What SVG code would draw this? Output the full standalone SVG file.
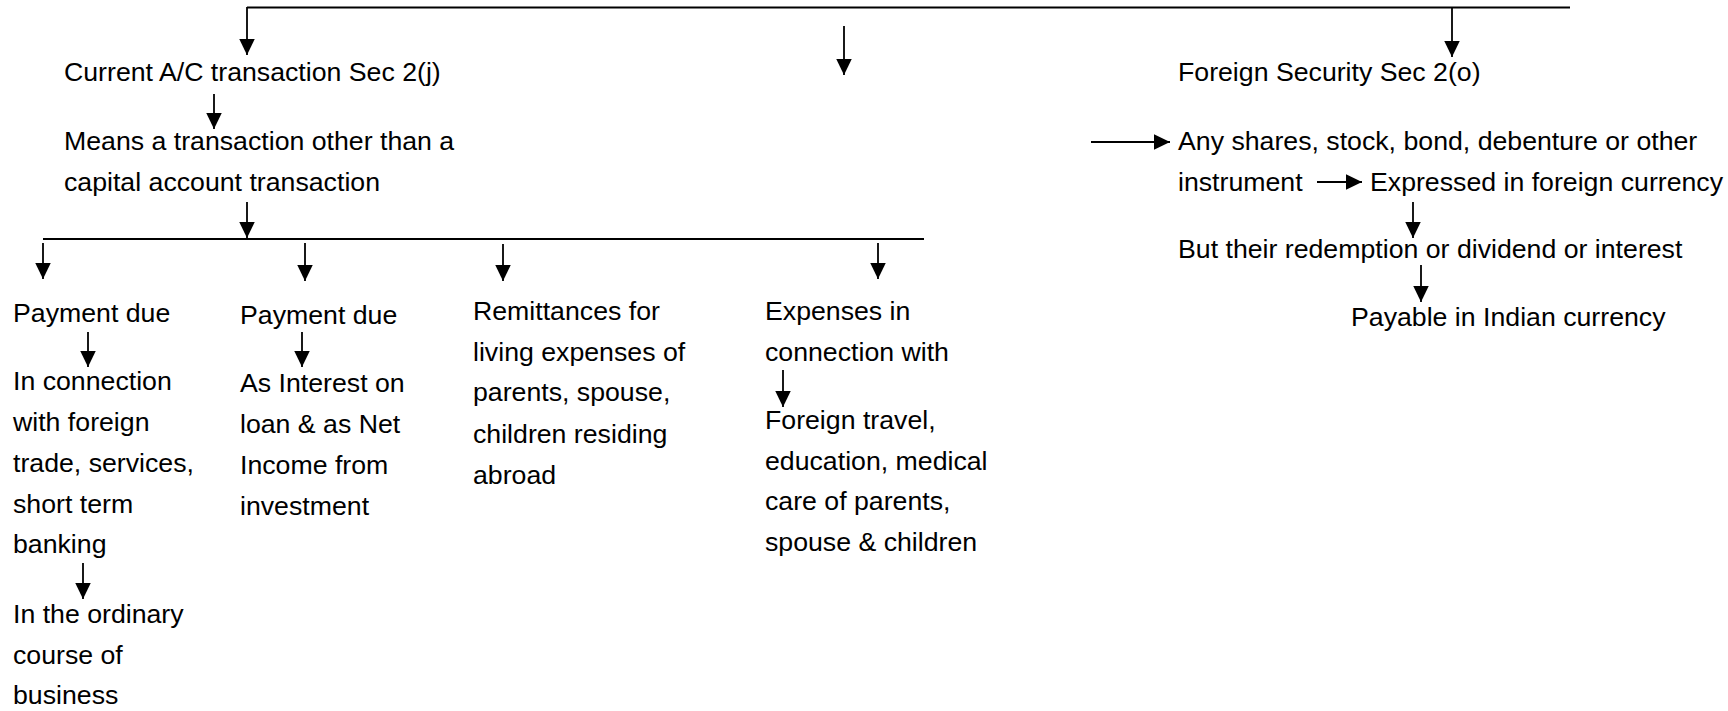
<svg xmlns="http://www.w3.org/2000/svg" width="1728" height="711" viewBox="0 0 1728 711">
<style>
text{font-family:"Liberation Sans",Arial,sans-serif;font-size:26.7px;fill:#000}
.ln{stroke:#000;stroke-width:2;fill:none}
.ar{stroke:#000;stroke-width:1.8;fill:none;marker-end:url(#ah)}
</style>
<defs>
<marker id="ah" markerUnits="userSpaceOnUse" markerWidth="17" markerHeight="17" viewBox="0 0 16 16" refX="15.5" refY="7.5" orient="auto">
<path d="M0,0 L15.5,7.5 L0,15 Z" fill="#000"/>
</marker>
</defs>
<rect width="1728" height="711" fill="#fff"/>
<g id="connectors">
<line class="ln" x1="247" y1="7.5" x2="1570" y2="7.5"/>
<line class="ln" x1="43" y1="239" x2="924" y2="239"/>
<line class="ar" x1="247" y1="7" x2="247" y2="55"/>
<line class="ar" x1="844" y1="26" x2="844" y2="75"/>
<line class="ar" x1="1452" y1="7" x2="1452" y2="57"/>
<line class="ar" x1="214" y1="94" x2="214" y2="129"/>
<line class="ar" x1="247" y1="202" x2="247" y2="238"/>
<line class="ar" x1="43" y1="243" x2="43" y2="279"/>
<line class="ar" x1="305" y1="243" x2="305" y2="281"/>
<line class="ar" x1="503" y1="244" x2="503" y2="281"/>
<line class="ar" x1="878" y1="243" x2="878" y2="279"/>
<line class="ar" x1="88" y1="332" x2="88" y2="367"/>
<line class="ar" x1="302" y1="332" x2="302" y2="367"/>
<line class="ar" x1="83" y1="563" x2="83" y2="599"/>
<line class="ar" x1="783" y1="370" x2="783" y2="407"/>
<line class="ar" x1="1091" y1="142" x2="1170" y2="142"/>
<line class="ar" x1="1317" y1="182" x2="1362" y2="182"/>
<line class="ar" x1="1413" y1="202" x2="1413" y2="238"/>
<line class="ar" x1="1421" y1="265" x2="1421" y2="302"/>
</g>
<g id="current-ac"><text x="64" y="81">Current A/C transaction Sec 2(j)</text></g>
<g id="means"><text x="64" y="150">Means a transaction other than a</text><text x="64" y="191">capital account transaction</text></g>
<g id="payment-due-1"><text x="13" y="322">Payment due</text></g>
<g id="foreign-trade"><text x="13" y="390">In connection</text><text x="13" y="431">with foreign</text><text x="13" y="472">trade, services,</text><text x="13" y="513">short term</text><text x="13" y="553">banking</text></g>
<g id="ordinary-course"><text x="13" y="623">In the ordinary</text><text x="13" y="664">course of</text><text x="13" y="704">business</text></g>
<g id="payment-due-2"><text x="240" y="324">Payment due</text></g>
<g id="interest"><text x="240" y="392">As Interest on</text><text x="240" y="433">loan &amp; as Net</text><text x="240" y="474">Income from</text><text x="240" y="515">investment</text></g>
<g id="remittances"><text x="473" y="320">Remittances for</text><text x="473" y="361">living expenses of</text><text x="473" y="401">parents, spouse,</text><text x="473" y="443">children residing</text><text x="473" y="484">abroad</text></g>
<g id="expenses"><text x="765" y="320">Expenses in</text><text x="765" y="361">connection with</text></g>
<g id="foreign-travel"><text x="765" y="429">Foreign travel,</text><text x="765" y="470">education, medical</text><text x="765" y="510">care of parents,</text><text x="765" y="551">spouse &amp; children</text></g>
<g id="foreign-security"><text x="1178" y="81">Foreign Security Sec 2(o)</text></g>
<g id="any-shares"><text x="1178" y="150">Any shares, stock, bond, debenture or other</text><text x="1178" y="191">instrument</text></g>
<g id="expressed"><text x="1370" y="191">Expressed in foreign currency</text></g>
<g id="redemption"><text x="1178" y="258">But their redemption or dividend or interest</text></g>
<g id="payable"><text x="1351" y="326">Payable in Indian currency</text></g>
</svg>
